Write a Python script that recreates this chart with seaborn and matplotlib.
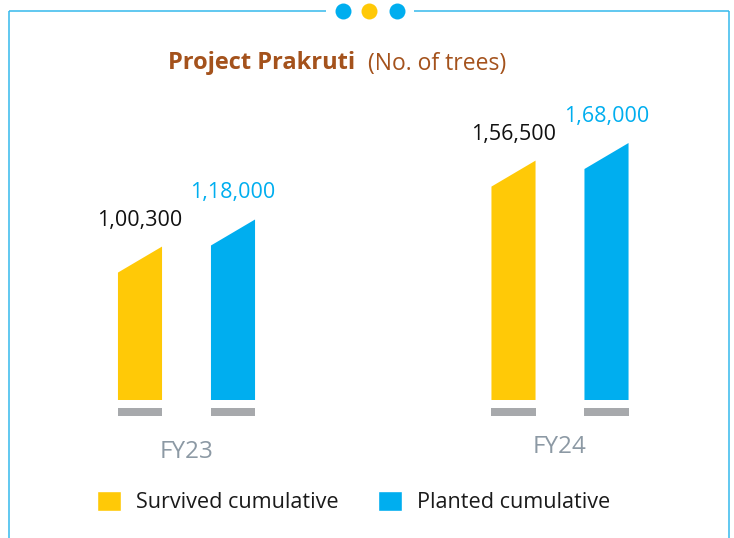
import matplotlib
matplotlib.use("Agg")
import matplotlib.pyplot as plt
from matplotlib.patches import Polygon
from matplotlib.lines import Line2D
from matplotlib.transforms import ScaledTranslation
import pandas as pd
import seaborn as sns

# ---- data ----
years = ["FY23", "FY24"]
series = ["Survived cumulative", "Planted cumulative"]
survived = [100300, 156500]
planted = [118000, 168000]

# ---- styling ----
YELLOW = "#FFC907"
BLUE = "#00AEEF"
GREY_BASE = "#A7A9AC"
FRAME = "#35B9EC"
TITLE_COLOR = "#A4521C"
TICK_COLOR = "#8C99A4"
FONT = "Open Sans"

W, H, DPI = 734, 538, 100


def indian_format(v):
    s = str(int(round(v)))
    if len(s) <= 3:
        return s
    head, tail = s[:-3], s[-3:]
    groups = []
    while len(head) > 2:
        groups.insert(0, head[-2:])
        head = head[:-2]
    if head:
        groups.insert(0, head)
    return ",".join(groups + [tail])


df = pd.DataFrame({
    "year": years * 2,
    "series": [series[0]] * len(years) + [series[1]] * len(years),
    "trees": survived + planted,
})

sns.set_theme(style="white")
plt.rcParams["font.family"] = [FONT, "DejaVu Sans"]

fig = plt.figure(figsize=(W / DPI, H / DPI), dpi=DPI)
fig.patch.set_facecolor("white")

# plot area in pixel terms: x 50..700, y 100..430 (from top)
ax_l, ax_r, ax_t, ax_b = 50, 700, 100, 430
ax = fig.add_axes([ax_l / W, 1 - ax_b / H, (ax_r - ax_l) / W, (ax_b - ax_t) / H])

sns.barplot(data=df, x="year", y="trees", hue="series", hue_order=series,
            palette=[YELLOW, BLUE], width=0.498, gap=0.526,
            saturation=1, ax=ax)

# axis scaling: category 0 centred at 186.5 px, 373.5 px between categories
cat0_px, cat_step = 186.5, 373.5
ax.set_xlim((ax_l - cat0_px) / cat_step, (ax_r - cat0_px) / cat_step)
per_px = 168000 / 257.0
base_px = 400
ax.set_ylim(-(ax_b - base_px) * per_px, (base_px - ax_t) * per_px)

slant = 26 * per_px
base_top, base_bot = -8 * per_px, -16 * per_px

bars = [p for p in ax.patches if p.get_height() > 0]
for p in bars:
    x, w, h = p.get_x(), p.get_width(), p.get_height()
    color = p.get_facecolor()
    p.set_visible(False)
    ax.add_patch(Polygon([(x, 0), (x + w, 0), (x + w, h), (x, h - slant)],
                         closed=True, facecolor=color, edgecolor="none"))
    ax.bar(x + w / 2, base_top - base_bot, bottom=base_bot, width=w,
           color=GREY_BASE, linewidth=0)
    is_planted = abs(color[2] - 0.937) < 0.05
    ax.annotate(indian_format(h), xy=(x + w / 2, h), xytext=(0, 16),
                textcoords="offset pixels", ha="center", va="bottom",
                fontsize=15.5, color=BLUE if is_planted else "#111111")

for s in ax.spines.values():
    s.set_visible(False)
ax.set_xlabel("")
ax.set_ylabel("")
ax.set_yticks([])
ax.tick_params(axis="x", length=0, pad=7, labelsize=17.5, labelcolor=TICK_COLOR)
labels = ax.get_xticklabels()
labels[1].set_transform(labels[1].get_transform() +
                        ScaledTranslation(0, 5 / DPI, fig.dpi_scale_trans))

# legend
old = ax.get_legend()
handles = old.legend_handles
texts = [t.get_text() for t in old.get_texts()]
old.remove()
leg = fig.legend(handles, texts, loc="center left",
                 bbox_to_anchor=(97 / W, 1 - 502 / H), ncol=2, frameon=False,
                 fontsize=15.6, handlelength=1.1, handleheight=1.1,
                 handletextpad=0.68, columnspacing=1.85, borderpad=0,
                 borderaxespad=0)
for t in leg.get_texts():
    t.set_color("#1A1A1A")

# title
title = fig.text(168 / W, 1 - 63 / H, "Project Prakruti", fontsize=17,
                 fontweight="bold", color=TITLE_COLOR, ha="left", va="center")
fig.canvas.draw()
bb = title.get_window_extent()
fig.text((bb.x1 + 13) / W, 1 - 64 / H, "(No. of trees)", fontsize=16.5,
         color=TITLE_COLOR, ha="left", va="center")

# frame with dots
fy = 1 - 11 / H
lw = 1.1
for xs, ys in [((9 / W, 326 / W), (fy, fy)), ((414 / W, 729 / W), (fy, fy)),
               ((9 / W, 9 / W), (fy, 0)), ((729 / W, 729 / W), (fy, 0))]:
    fig.add_artist(Line2D(xs, ys, color=FRAME, lw=lw, solid_capstyle="butt"))
for cx, c in [(342.7, BLUE), (369.3, YELLOW), (396.7, BLUE)]:
    fig.add_artist(Line2D([cx / W], [fy], marker="o", markersize=11.5,
                          markerfacecolor=c, markeredgecolor="none",
                          linestyle="none"))

fig.savefig("out.png", dpi=DPI, facecolor="white")
